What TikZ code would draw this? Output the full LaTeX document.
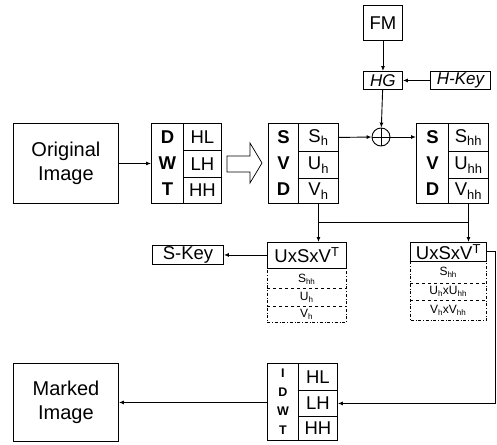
\documentclass[tikz,border=0pt]{standalone}
\usepackage{fontspec}
\setmainfont{Liberation Sans}
\usetikzlibrary{arrows.meta}
\newcommand\fsA{\fontsize{18.5}{20}\selectfont}
\newcommand\fsE{\fontsize{20}{22}\selectfont}
\newcommand\fsB{\fontsize{17}{18}\selectfont}
\newcommand\fsC{\fontsize{12}{13}\selectfont}
\newcommand\fsD{\fontsize{12.5}{19}\selectfont}
\begin{document}
\begin{tikzpicture}[x=1pt,y=-1pt,
  box/.style={draw, line width=0.9pt, inner sep=0pt, anchor=north west, align=center},
  arr/.style={line width=0.9pt, -{Latex[length=5pt,width=4pt]}},
  ln/.style={line width=0.9pt},
  cell/.style={box, font=\fsA},
  bigl/.style={box, font=\fsA\bfseries},
  drow/.style={inner sep=0pt, anchor=north west, minimum width=#1, font=\fsC},
]
\useasboundingbox (0,0) rectangle (497,444);
% top
\node[box, font=\fsA, minimum width=39pt, minimum height=35pt] (FM) at (363,5) {FM};
\node[box, font=\fsB\itshape, minimum width=39pt, minimum height=18pt] (HG) at (363,71) {HG};
\node[box, font=\fsB\itshape, minimum width=60pt, minimum height=18pt] (HK) at (430,71) {H-Key};
\node[draw, line width=0.9pt, circle, minimum size=18pt, inner sep=0pt] (op) at (381,137) {};
\draw[ln] (op.north) -- (op.south) (op.west) -- (op.east);
% original
\node[box, font=\fsE, minimum width=105pt, minimum height=80pt] (O) at (13,123) {Original\\[2pt]Image};
% DWT
\node[bigl, minimum width=32pt, minimum height=80pt] (dL) at (151,123) {D\\[6pt]W\\[6pt]T};
\node[cell, minimum width=38pt, minimum height=27pt] (dHL) at (183,123) {HL};
\node[cell, minimum width=38pt, minimum height=27pt] (dLH) at (183,150) {LH};
\node[cell, minimum width=38pt, minimum height=26pt] (dHH) at (183,177) {HH};
% hollow arrow
\draw[line width=0.7pt] (227,156) -- (250,156) -- (250,143) -- (262,163) -- (250,183) -- (250,172) -- (227,172) -- cycle;
% SVD1
\node[bigl, minimum width=30pt, minimum height=80pt] (sL) at (268,123) {S\\[6pt]V\\[6pt]D};
\node[cell, minimum width=40pt, minimum height=28pt] (sS) at (298,123) {S\textsubscript{h}};
\node[cell, minimum width=40pt, minimum height=27pt] (sU) at (298,151) {U\textsubscript{h}};
\node[cell, minimum width=40pt, minimum height=25pt] (sV) at (298,178) {V\textsubscript{h}};
% SVD2
\node[bigl, minimum width=32pt, minimum height=80pt] (tL) at (416,123) {S\\[6pt]V\\[6pt]D};
\node[cell, minimum width=40pt, minimum height=28pt] (tS) at (448,123) {S\textsubscript{hh}};
\node[cell, minimum width=40pt, minimum height=27pt] (tU) at (448,151) {U\textsubscript{hh}};
\node[cell, minimum width=40pt, minimum height=25pt] (tV) at (448,178) {V\textsubscript{hh}};
% U boxes
\node[box, font=\fsA, minimum width=79pt, minimum height=26pt] (U1) at (267,242) {UxSxV\textsuperscript{T}};
\node[drow=79pt, minimum height=18pt] (U1a) at (267,270) {S\textsubscript{hh}};
\node[drow=79pt, minimum height=18pt] (U1b) at (267,288) {U\textsubscript{h}};
\node[drow=79pt, minimum height=16pt] (U1c) at (267,306) {V\textsubscript{h}};
\draw[line width=0.5pt, dash dot] (U1a.north west) -- (U1c.south west) -- (U1c.south east) -- (U1a.north east);
\draw[line width=0.5pt, dashed] (U1b.north west) -- (U1b.north east) (U1c.north west) -- (U1c.north east);
\node[box, font=\fsA, minimum width=76pt, minimum height=19pt] (U2) at (410,242) {UxSxV\textsuperscript{T}};
\node[drow=76pt, minimum height=22pt] (U2a) at (410,261) {S\textsubscript{hh}};
\node[drow=76pt, minimum height=17pt] (U2b) at (410,283) {U\textsubscript{h}xU\textsubscript{hh}};
\node[drow=76pt, minimum height=20pt] (U2c) at (410,300) {V\textsubscript{h}xV\textsubscript{hh}};
\draw[line width=0.5pt, dash dot] (U2a.north west) -- (U2c.south west) -- (U2c.south east) -- (U2a.north east);
\draw[line width=0.5pt, dashed] (U2b.north west) -- (U2b.north east) (U2c.north west) -- (U2c.north east);
\node[box, font=\fsA, minimum width=71pt, minimum height=19pt] (SK) at (152,245) {S-Key};
% IDWT
\node[box, font=\fsD\bfseries, minimum width=31pt, minimum height=77pt] (iL) at (267,363) {I\\D\\W\\T};
\node[cell, minimum width=39pt, minimum height=27pt] (iHL) at (298,363) {HL};
\node[cell, minimum width=39pt, minimum height=26pt] (iLH) at (298,390) {LH};
\node[cell, minimum width=39pt, minimum height=24pt] (iHH) at (298,416) {HH};
\node[box, font=\fsE, minimum width=105pt, minimum height=78pt] (M) at (13,363) {Marked\\[2pt]Image};
% connectors
\draw[arr] (FM) -- (HG);
\draw[arr] (HK) -- (HG);
\draw[arr] (HG) -- (op);
\draw[arr] (sS.east) -- (op.west);
\draw[arr] (op.east) -- (op.east -| tL.west);
\draw[arr] (O.east |- dL.west) -- (dL.west);
\coordinate (j1) at (318,222);
\coordinate (j2) at (468,222);
\draw[ln] (j1) -- (j2);
\draw[arr] (sV.south) -- (sV.south |- U1.north);
\draw[arr] (tV.south) -- (tV.south |- U2.north);
\draw[arr] (U1.west |- SK.east) -- (SK.east);
\coordinate (c1) at (495,251);
\draw[arr] (U2.east |- c1) -- (c1) |- (iLH.east);
\draw[arr] (iL.west |- M.east) -- (M.east);
\end{tikzpicture}
\end{document}
